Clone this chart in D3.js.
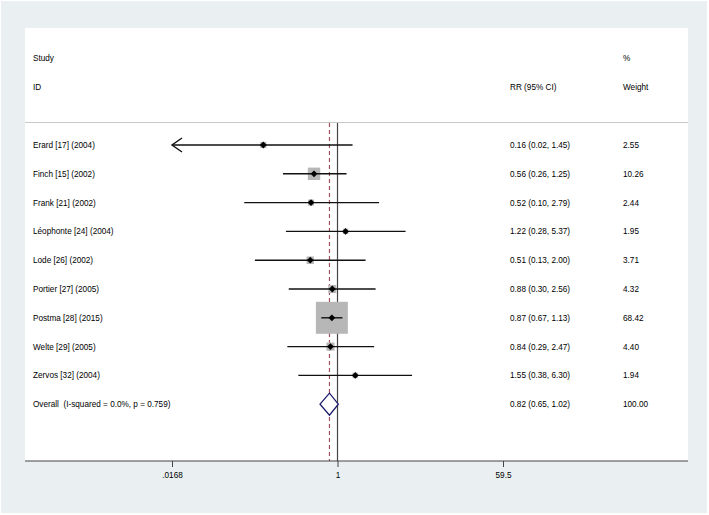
<!DOCTYPE html>
<html>
<head>
<meta charset="utf-8">
<script src="https://cdn.jsdelivr.net/npm/d3@7"></script>
<style>
body{margin:0;background:#fff;}
text{font-family:"Liberation Sans",Arial,sans-serif;font-size:8.2px;fill:#000;white-space:pre;}
</style>
</head>
<body>
<script>
// forest plot data
var studies=["Erard [17] (2004)","Finch [15] (2002)","Frank [21] (2002)","Léophonte [24] (2004)","Lode [26] (2002)","Portier [27] (2005)","Postma [28] (2015)","Welte [29] (2005)","Zervos [32] (2004)"];
var rr=[0.16,0.56,0.52,1.22,0.51,0.88,0.87,0.84,1.55];
var lo=[0.016,0.26,0.10,0.28,0.13,0.30,0.67,0.29,0.38];
var hi=[1.45,1.25,2.79,5.37,2.00,2.56,1.13,2.47,6.30];
var weight=[2.55,10.26,2.44,1.95,3.71,4.32,68.42,4.40,1.94];
var overallLabel="Overall  (I-squared = 0.0%, p = 0.759)";
var overall={rr:0.82,lo:0.65,hi:1.02,weight:100};
var tickVals=[0.0168,1,59.5];
var tickLabels=[".0168","1","59.5"];

var svgwidth=709,svgheight=515;
var panel={left:25,right:688,top:28,bottom:461};
var rowTop=145,rowStep=28.8;
var colRR=510,colW=623,colStudy=33;

var svg=d3.select("body").append("svg")
	.attr("width",svgwidth)
	.attr("height",svgheight);

svg.append("rect")
	.attr("x",1).attr("y",1)
	.attr("width",706).attr("height",512)
	.attr("fill","#eaf0f2");

svg.append("rect")
	.attr("x",panel.left).attr("y",panel.top)
	.attr("width",panel.right-panel.left)
	.attr("height",panel.bottom-panel.top)
	.attr("fill","#fff");

var x=d3.scaleLog().domain([tickVals[0],tickVals[2]]).range([172,503]);
var rows=studies.concat([overallLabel]);
var y=function(i){return rowTop+i*rowStep;};

// headers
var hdr=svg.append("g");
hdr.append("text").attr("x",colStudy).attr("y",61).text("Study");
hdr.append("text").attr("x",colStudy).attr("y",90).text("ID");
hdr.append("text").attr("x",colW).attr("y",61).text("%");
hdr.append("text").attr("x",colRR).attr("y",90).text("RR (95% CI)");
hdr.append("text").attr("x",colW).attr("y",90).text("Weight");

svg.append("line")
	.attr("x1",panel.left).attr("x2",panel.right)
	.attr("y1",122.5).attr("y2",122.5)
	.attr("stroke","#c8c8c8").attr("stroke-width",1);

// reference lines
svg.append("line")
	.attr("x1",x(1)).attr("x2",x(1))
	.attr("y1",123).attr("y2",panel.bottom)
	.attr("stroke","#444").attr("stroke-width",1.2);
svg.append("line")
	.attr("x1",x(overall.rr)).attr("x2",x(overall.rr))
	.attr("y1",123).attr("y2",panel.bottom)
	.attr("stroke","#a0505f").attr("stroke-width",1.2)
	.attr("stroke-dasharray","4,3");

var maxW=d3.max(weight);
var boxSide=function(w){return 32*Math.sqrt(w/maxW);};
var xmin=x.domain()[0],xmax=x.domain()[1];

var g=svg.append("g");
studies.forEach(function(s,i){
	var cy=y(i),b=boxSide(weight[i]);
	g.append("rect")
		.attr("x",x(rr[i])-b/2).attr("y",cy-b/2)
		.attr("width",b).attr("height",b)
		.attr("fill","#b7b7b7");
	var x1=x(Math.max(lo[i],xmin)),x2=x(Math.min(hi[i],xmax));
	g.append("line")
		.attr("x1",x1).attr("x2",x2)
		.attr("y1",cy).attr("y2",cy)
		.attr("stroke","#111").attr("stroke-width",1.4);
	if(lo[i]<xmin){
		g.append("path")
			.attr("d","M"+(x1+10)+","+(cy-7)+"L"+x1+","+cy+"L"+(x1+10)+","+(cy+7))
			.attr("fill","none").attr("stroke","#111").attr("stroke-width",1.4);
	}
	g.append("path")
		.attr("d","M"+(x(rr[i])-3.4)+","+cy+"L"+x(rr[i])+","+(cy-3.4)+"L"+(x(rr[i])+3.4)+","+cy+"L"+x(rr[i])+","+(cy+3.4)+"Z")
		.attr("fill","#000");
});

// overall diamond
var oy=y(studies.length);
svg.append("path")
	.attr("d","M"+x(overall.lo)+","+oy+"L"+x(overall.rr)+","+(oy-11)+"L"+x(overall.hi)+","+oy+"L"+x(overall.rr)+","+(oy+11)+"Z")
	.attr("fill","#fff").attr("stroke","#1b1b6b").attr("stroke-width",1.3);

// text columns
var f=d3.format(".2f");
var rrText=rr.map(function(d,i){return f(d)+" ("+f(lo[i])+", "+f(hi[i])+")";})
	.concat([f(overall.rr)+" ("+f(overall.lo)+", "+f(overall.hi)+")"]);
var wText=weight.map(f).concat([f(overall.weight)]);

svg.append("g").selectAll("text").data(rows).join("text")
	.attr("x",colStudy).attr("y",function(d,i){return y(i)+3;}).text(function(d){return d;});
svg.append("g").selectAll("text").data(rrText).join("text")
	.attr("x",colRR).attr("y",function(d,i){return y(i)+3;}).text(function(d){return d;});
svg.append("g").selectAll("text").data(wText).join("text")
	.attr("x",colW).attr("y",function(d,i){return y(i)+3;}).text(function(d){return d;});

// x axis
var ax=svg.append("g").attr("transform","translate(0,"+panel.bottom+")")
	.call(d3.axisBottom(x).tickValues(tickVals)
		.tickFormat(function(d,i){return tickLabels[i];})
		.tickSize(6).tickPadding(5));
ax.select(".domain").remove();
ax.selectAll(".tick line").attr("stroke","#444");
ax.selectAll(".tick text").attr("fill","#000").style("font-size","8.2px")
	.style("font-family","'Liberation Sans',Arial,sans-serif");
svg.append("line")
	.attr("x1",panel.left).attr("x2",panel.right)
	.attr("y1",panel.bottom).attr("y2",panel.bottom)
	.attr("stroke","#444").attr("stroke-width",1.2);
</script>
</body>
</html>
